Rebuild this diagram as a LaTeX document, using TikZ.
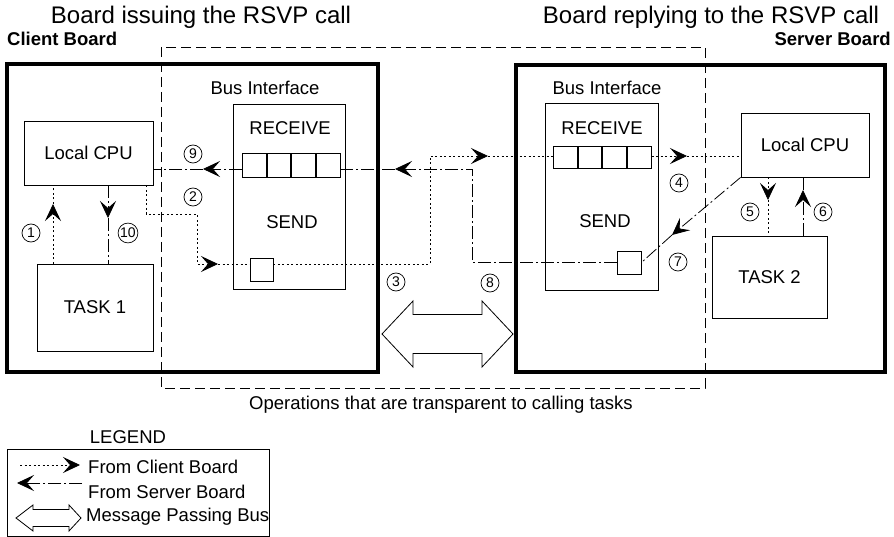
\documentclass[tikz,border=0pt]{standalone}
\usepackage{fontspec}
\setmainfont{Liberation Sans}
\usetikzlibrary{arrows.meta}
\begin{document}
\begin{tikzpicture}[x=1pt,y=-1pt,
  txt/.style={font=\fontsize{18.5}{20}\selectfont, inner sep=0pt},
  bold/.style={font=\fontsize{18.5}{20}\selectfont\bfseries, inner sep=0pt},
  titletxt/.style={font=\fontsize{24}{26}\selectfont, inner sep=0pt},
  board/.style={draw, line width=4.5pt},
  box/.style={draw, line width=0.9pt, inner sep=0pt},
  cell/.style={draw, line width=0.9pt, minimum width=23.75pt, minimum height=24pt, inner sep=0pt},
  num/.style={draw, circle, line width=0.7pt, minimum size=18pt, inner sep=0.5pt, font=\fontsize{14}{15}\selectfont},
  cl/.style={line width=0.8pt, dash pattern=on 2pt off 2.5pt},
  sv/.style={line width=0.8pt, dash pattern=on 13pt off 3pt on 2pt off 3pt},
  tip/.style={-{Stealth[length=17pt,width=16pt,inset=7pt]}},
  busarrow/.style={draw, line width=0.8pt, fill=white},
  region/.style={draw, line width=0.8pt, dash pattern=on 10pt off 5pt},
  ]
\useasboundingbox (0,0) rectangle (894,537);

% titles
\node[titletxt] (title1) at (201,17) {Board issuing the RSVP call};
\node[titletxt] (title2) at (711,17) {Board replying to the RSVP call};
\node[bold, anchor=west] (cb) at (7,39) {Client Board};
\node[bold, anchor=east] (sb) at (891,39) {Server Board};

% transparent region
\draw[region] (161,47) rectangle (705,388);

% boards
\draw[board] (7,64) rectangle (378,372);
\draw[board] (516,65) rectangle (885,372);

% client board
\node[box, txt, minimum width=129pt, minimum height=64pt] (cpu1) at (88.5,153) {Local CPU};
\node[box, txt, minimum width=116pt, minimum height=87pt] (task1) at (95,307.5) {TASK 1};
\node[txt] (bil1) at (265,88) {Bus Interface};
\node[box, minimum width=112pt, minimum height=185pt] (bi1) at (289,196.5) {};
\node[txt] (rc1) at (290,128) {RECEIVE};
\node[txt] (sd1) at (292,222) {SEND};
\node[cell, anchor=west] (q1a) at (242,165) {};
\node[cell, anchor=west] (q1b) at (q1a.east) {};
\node[cell, anchor=west] (q1c) at (q1b.east) {};
\node[cell, anchor=west] (q1d) at (q1c.east) {};
\node[box, minimum width=23pt, minimum height=23pt] (sq1) at (261.5,269.5) {};

% server board
\node[box, txt, minimum width=128pt, minimum height=64pt] (cpu2) at (805,145) {Local CPU};
\node[box, txt, minimum width=115pt, minimum height=82pt] (task2) at (769.5,277) {TASK 2};
\node[txt] (bil2) at (607,88) {Bus Interface};
\node[box, minimum width=113pt, minimum height=187pt] (bi2) at (601.5,196.5) {};
\node[txt] (rc2) at (602,128) {RECEIVE};
\node[txt] (sd2) at (605,221) {SEND};
\node[cell, minimum height=22pt, anchor=west] (q2a) at (553,157) {};
\node[cell, minimum height=22pt, anchor=west] (q2b) at (q2a.east) {};
\node[cell, minimum height=22pt, anchor=west] (q2c) at (q2b.east) {};
\node[cell, minimum height=22pt, anchor=west] (q2d) at (q2c.east) {};
\node[box, minimum width=24pt, minimum height=23pt] (sq2) at (629,262.5) {};

% bus
\draw[busarrow] (382,334) -- (413,301) -- (413,314.5) -- (482,314.5) -- (482,301) -- (513,334)
  -- (482,367) -- (482,353.5) -- (413,353.5) -- (413,367) -- cycle;

% path 1
\coordinate (t1) at (53,204);
\draw[cl,tip] (task1.north -| t1) -- (t1);
\draw[cl] (t1) -- (cpu1.south -| t1);
% path 10
\coordinate (t10) at (108,218);
\draw[sv,tip] (cpu1.south -| t10) -- (t10);
\draw[sv] (t10) -- (task1.north -| t10);
% path 2
\coordinate (a2) at (146,214);
\coordinate (b2) at (197,214);
\coordinate (c2) at (197,264);
\coordinate (t2) at (218,264);
\draw[cl,tip] (cpu1.south -| a2) -- (a2) -- (b2) -- (c2) -- (t2);
\draw[cl] (t2) -- (sq1.west |- t2);
% path 3
\coordinate (d3) at (430,264);
\coordinate (e3) at (430,156);
\coordinate (t3) at (488,156);
\draw[cl,tip] (sq1.east |- d3) -- (d3) -- (e3) -- (t3);
\draw[cl] (t3) -- (q2a.west |- t3);
% path 4
\coordinate (t4) at (687,156);
\draw[cl,tip] (q2d.east |- t4) -- (t4);
\draw[cl] (t4) -- (cpu2.west |- t4);
% path 5
\coordinate (t5) at (768,200);
\draw[cl,tip] (cpu2.south -| t5) -- (t5);
\draw[cl] (t5) -- (task2.north -| t5);
% path 6
\coordinate (t6) at (803,190);
\draw[sv,tip] (task2.north -| t6) -- (t6);
\draw[sv] (t6) -- (cpu2.south -| t6);
% path 7
\coordinate (t7) at (672,235);
\draw[sv,tip] (cpu2.south west) -- (t7);
\draw[sv] (t7) -- (sq2.east);
% path 8
\coordinate (b8) at (472,169);
\coordinate (t8) at (395,169);
\draw[sv,tip] (sq2.west) -- (sq2.west -| b8) -- (b8) -- (t8);
\draw[sv] (t8) -- (q1d.east |- t8);
% path 9
\coordinate (t9) at (203,169);
\draw[sv,tip] (q1a.west |- t9) -- (t9);
\draw[sv] (t9) -- (cpu1.east |- t9);

% numbers
\node[num] (n1) at (31,233) {1};
\node[num] (n2) at (193,197) {2};
\node[num] (n3) at (396,282) {3};
\node[num] (n4) at (679,183) {4};
\node[num] (n5) at (750,212) {5};
\node[num] (n6) at (823,212) {6};
\node[num] (n7) at (678,262) {7};
\node[num] (n8) at (490,283) {8};
\node[num] (n9) at (193,154) {9};
\node[num] (n10) at (128,233) {10};

% caption
\node[txt] (ops) at (441,405) {Operations that are transparent to calling tasks};

% legend
\node[txt] (leg) at (128,437) {LEGEND};
\draw[line width=0.8pt] (7,449) rectangle (269,536);
\coordinate (l1s) at (20,465);
\coordinate (l1e) at (80,465);
\draw[cl,tip] (l1s) -- (l1e);
\node[txt, anchor=west] (lt1) at (88,467) {From Client Board};
\coordinate (l2s) at (82,483);
\coordinate (l2e) at (17,483);
\draw[sv,tip] (l2s) -- (l2e);
\node[txt, anchor=west] (lt2) at (88,492) {From Server Board};
\draw[busarrow] (16,518) -- (33,505) -- (33,509.5) -- (69,509.5) -- (69,505) -- (81,518)
  -- (69,531) -- (69,526.5) -- (33,526.5) -- (33,531) -- cycle;
\node[txt, anchor=west] (lt3) at (86,517) {Message Passing Bus};
\end{tikzpicture}
\end{document}
